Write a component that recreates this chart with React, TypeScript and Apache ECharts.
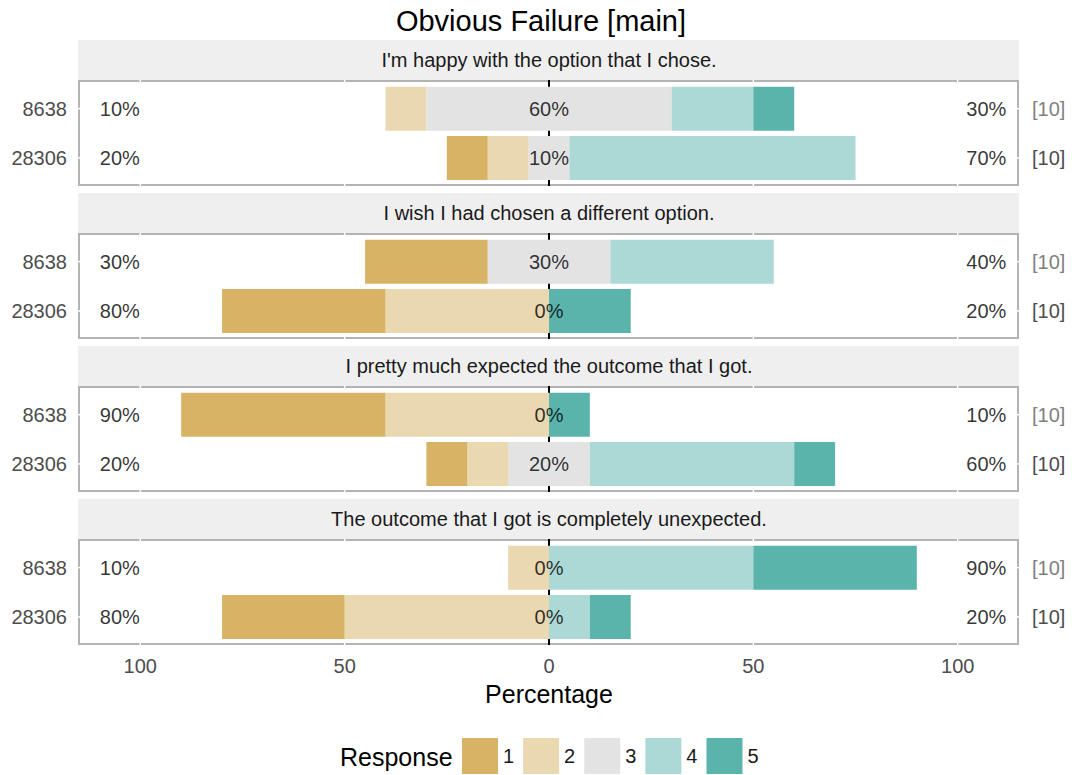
import React, { useEffect, useRef } from "react";
import * as echarts from "echarts";

const titleText = "Obvious Failure [main]";
const questions = [
  "I'm happy with the option that I chose.",
  "I wish I had chosen a different option.",
  "I pretty much expected the outcome that I got.",
  "The outcome that I got is completely unexpected.",
];
const categories = ["8638", "28306"];
const countLabels = ["[10]", "[10]"];
const gridTicks = [-100, -50, 50, 100];
// values per panel: [8638, 28306]
const resp1 = [[0, 10], [30, 40], [50, 10], [0, 30]];
const resp2 = [[10, 10], [0, 40], [40, 10], [10, 50]];
const resp3 = [[60, 10], [30, 0], [0, 20], [0, 0]];
const resp4 = [[20, 70], [40, 0], [0, 50], [50, 10]];
const resp5 = [[10, 0], [0, 20], [10, 10], [40, 10]];
const responseNames = ["1", "2", "3", "4", "5"];
const colors = ["#d8b365", "#ead8b1", "#e3e3e3", "#acd8d5", "#5ab4ac"];

const FONT = "'Liberation Sans', Arial, Helvetica, sans-serif";

export default function App() {
  const ref = useRef<HTMLDivElement>(null);
  useEffect(() => {
    const chart = echarts.init(ref.current!, undefined, { renderer: "svg" });
    const gridLeft = 79;
    const gridWidth = 940;
    const stripH = 40;
    const bodyH = 105;
    const period = 153;
    const firstStrip = 40;
    const grids: any[] = [];
    const xAxes: any[] = [];
    const yAxes: any[] = [];
    const series: any[] = [];
    const graphics: any[] = [];

    graphics.push({
      type: "text",
      x: 541,
      y: 21,
      style: { text: titleText, font: `29px ${FONT}`, fill: "#000", textAlign: "center", textVerticalAlign: "middle" },
    });

    questions.forEach((q, g) => {
      const stripTop = firstStrip + g * period;
      const bodyTop = stripTop + stripH;
      graphics.push({
        type: "rect",
        shape: { x: gridLeft - 1, y: stripTop, width: gridWidth + 1, height: stripH },
        style: { fill: "#efefef" },
        z: -1,
      });
      graphics.push({
        type: "rect",
        shape: { x: gridLeft, y: bodyTop + 1, width: gridWidth - 1, height: bodyH - 1 },
        style: { fill: "none", stroke: "#b3b3b3", lineWidth: 2 },
        z: -1,
      });
      graphics.push({
        type: "text",
        x: gridLeft + gridWidth / 2,
        y: stripTop + stripH / 2,
        style: { text: q, font: `20px ${FONT}`, fill: "#1a1a1a", textAlign: "center", textVerticalAlign: "middle" },
      });
      grids.push({
        left: gridLeft,
        width: gridWidth,
        top: bodyTop + 4,
        height: 98.6,
        show: false,
      });
      const last = g === questions.length - 1;
      xAxes.push({
        type: "value",
        gridIndex: g,
        min: -115,
        max: 115,
        axisLine: { show: false },
        axisTick: { show: false },
        axisLabel: {
          show: last,
          formatter: (v: number) => String(Math.abs(v)),
          color: "#4d4d4d",
          fontSize: 20,
          fontFamily: FONT,
          margin: 14,
          showMinLabel: false,
          showMaxLabel: false,
        },
        splitLine: { show: false },
        name: last ? "Percentage" : "",
        nameLocation: "middle",
        nameGap: 40,
        nameTextStyle: { fontSize: 25, color: "#000", fontFamily: FONT },
      });
      // left labels
      yAxes.push({
        type: "category",
        gridIndex: g,
        data: categories,
        inverse: true,
        position: "left",
        axisLine: { show: false, onZero: false },
        axisTick: { show: false },
        splitLine: { show: false },
        axisLabel: { color: "#4d4d4d", fontSize: 20, fontFamily: FONT, margin: 12 },
      });
      // right labels
      yAxes.push({
        type: "category",
        gridIndex: g,
        data: categories,
        inverse: true,
        position: "right",
        axisLine: { show: false, onZero: false },
        axisTick: { show: false },
        splitLine: { show: false },
        axisLabel: {
          margin: 13,
          formatter: (_v: string, i: number) => (i === 0 ? `{a|${countLabels[i]}}` : `{b|${countLabels[i]}}`),
          rich: {
            a: { color: "#7f7f7f", fontSize: 20, fontFamily: FONT },
            b: { color: "#4d4d4d", fontSize: 20, fontFamily: FONT },
          },
        },
      });
      const yi = g * 2;
      const v1 = resp1[g], v2 = resp2[g], v3 = resp3[g], v4 = resp4[g], v5 = resp5[g];
      const mk = (name: string, data: number[], ci: number) => ({
        type: "bar",
        name,
        xAxisIndex: g,
        yAxisIndex: yi,
        stack: "s" + g,
        barWidth: 44,
        z: 3,
        silent: true,
        itemStyle: { color: colors[ci] },
        data,
      });
      series.push(mk("3", v3.map((v) => -v / 2), 2));
      series.push(mk("3", v3.map((v) => v / 2), 2));
      series.push(mk("2", v2.map((v) => -v), 1));
      series.push(mk("4", v4.slice(), 3));
      series.push(mk("1", v1.map((v) => -v), 0));
      series.push(mk("5", v5.slice(), 4));
      const labelData: any[] = [];
      categories.forEach((c, r) => {
        labelData.push([-105, c, `${v1[r] + v2[r]}%`]);
        labelData.push([0, c, `${v3[r]}%`]);
        labelData.push([107, c, `${v4[r] + v5[r]}%`]);
      });
      series.push({
        type: "scatter",
        name: "labels" + g,
        xAxisIndex: g,
        yAxisIndex: yi,
        symbolSize: 0,
        z: 4,
        silent: true,
        data: labelData,
        label: {
          show: true,
          position: "inside",
          formatter: (p: any) => p.data[2],
          color: "#000",
          fontSize: 20,
          fontFamily: FONT,
        },
      });
    });

    graphics.push({
      type: "text",
      x: 340,
      y: 757,
      style: { text: "Response", font: `25px ${FONT}`, fill: "#000", textAlign: "left", textVerticalAlign: "middle" },
    });

    chart.setOption({
      animation: false,
      backgroundColor: "#fff",
      textStyle: { fontFamily: FONT },
      grid: grids,
      xAxis: xAxes,
      yAxis: yAxes,
      series,
      graphic: graphics,
      legend: {
        data: responseNames,
        left: 457,
        top: 733,
        itemWidth: 36,
        itemHeight: 36,
        itemGap: 9,
        icon: "rect",
        selectedMode: false,
        textStyle: { fontSize: 20, color: "#1a1a1a", fontFamily: FONT },
      },
    });

    // reference lines placed through the axis scales
    const extra: any[] = [];
    questions.forEach((_q, g) => {
      const bodyTop = firstStrip + g * period + stripH;
      const px = chart.convertToPixel({ xAxisIndex: g }, 0) as number;
      extra.push({
        type: "line",
        shape: { x1: px, y1: bodyTop, x2: px, y2: bodyTop + bodyH + 1 },
        style: { stroke: "#000", lineWidth: 2 },
        z: 1,
        silent: true,
      });
      gridTicks.forEach((t) => {
        const tx = chart.convertToPixel({ xAxisIndex: g }, t) as number;
        extra.push({
          type: "line",
          shape: { x1: tx, y1: bodyTop - 0.5, x2: tx, y2: bodyTop + bodyH + 1.5 },
          style: { stroke: "#ffffff", lineWidth: 1.5 },
          z: 0,
          silent: true,
        });
      });
      categories.forEach((c) => {
        const ty = chart.convertToPixel({ yAxisIndex: g * 2 }, c) as number;
        extra.push({
          type: "line",
          shape: { x1: gridLeft - 1.5, y1: ty, x2: gridLeft + 1.5, y2: ty },
          style: { stroke: "#ffffff", lineWidth: 1.5 },
          z: 0,
          silent: true,
        });
        extra.push({
          type: "line",
          shape: { x1: gridLeft + gridWidth - 2.5, y1: ty, x2: gridLeft + gridWidth + 0.5, y2: ty },
          style: { stroke: "#ffffff", lineWidth: 1.5 },
          z: 0,
          silent: true,
        });
      });
    });
    chart.setOption({ graphic: [...graphics, ...extra] });
    return () => chart.dispose();
  }, []);
  return <div ref={ref} style={{ position: "fixed", left: 0, top: 0, width: 1072, height: 775 }} />;
}
